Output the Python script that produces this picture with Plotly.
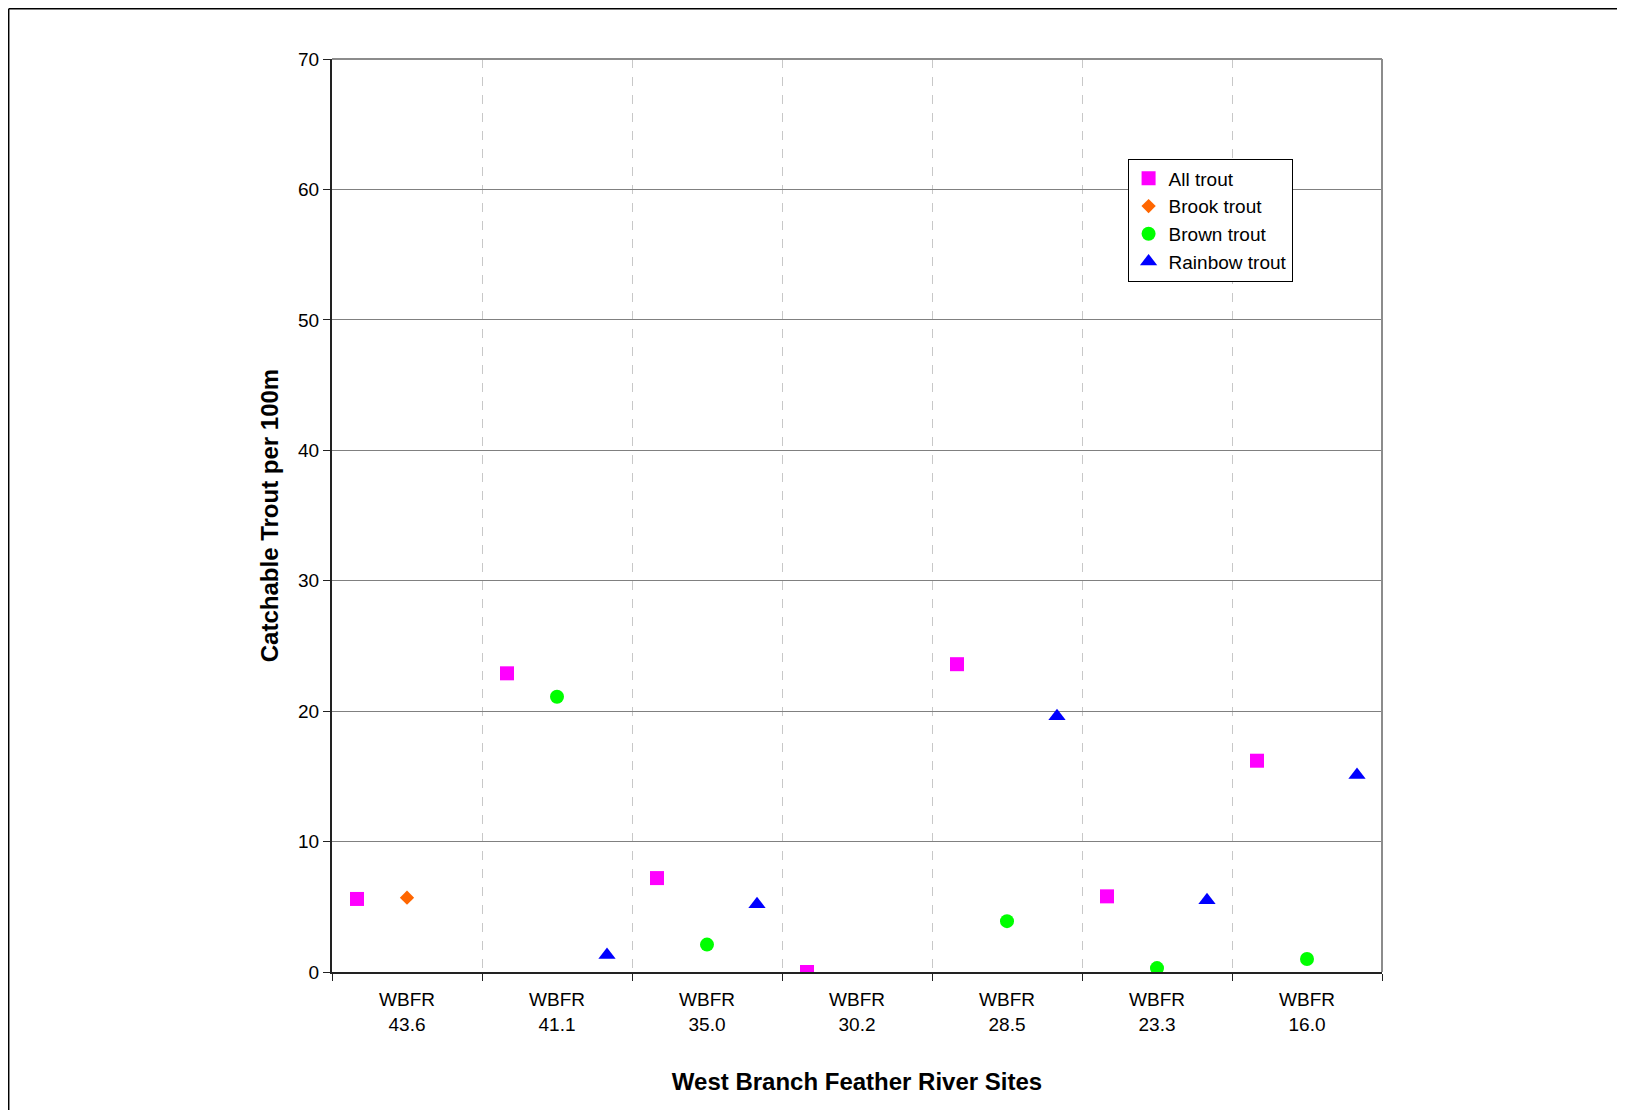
import plotly.graph_objects as go

# sites along the river (categories)
sites = ["WBFR<br>43.6", "WBFR<br>41.1", "WBFR<br>35.0", "WBFR<br>30.2",
         "WBFR<br>28.5", "WBFR<br>23.3", "WBFR<br>16.0"]

# catchable trout per 100 m, None = not caught / not plotted
all_trout = [5.6, 22.9, 7.2, 0.0, 23.6, 5.8, 16.2]
brook_trout = [5.7, None, None, None, None, None, None]
brown_trout = [None, 21.1, 2.1, None, 3.9, 0.3, 1.0]
rainbow_trout = [None, 1.3, 5.2, None, 19.6, 5.5, 15.1]

series = [
    ("All trout", all_trout, -1 / 3, "square", "#FF00FF", 14),
    ("Brook trout", brook_trout, 0.0, "diamond", "#FF6600", 11),
    ("Brown trout", brown_trout, 0.0, "circle", "#00FF00", 14),
    ("Rainbow trout", rainbow_trout, 1 / 3, "triangle-up", "#0000FF", 15),
]

font = "Liberation Sans, Arial, sans-serif"

fig = go.Figure()
for i, (name, vals, off, sym, col, sz) in enumerate(series):
    xs = [k + 0.5 + off for k, v in enumerate(vals) if v is not None]
    ys = [v for v in vals if v is not None]
    fig.add_trace(go.Scatter(
        x=xs, y=ys, name=name, mode="markers",
        marker=dict(symbol=sym, color=col, size=sz, line=dict(width=0)),
    ))

# outer chart frame (only top and left visible in the crop)
fx, fy = -0.3079, 1.0550
fig.add_shape(type="line", xref="paper", yref="paper",
              x0=fx, x1=1.5, y0=fy, y1=fy,
              line=dict(color="black", width=1.5))
fig.add_shape(type="line", xref="paper", yref="paper",
              x0=fx, x1=fx, y0=-0.5, y1=fy,
              line=dict(color="black", width=1.5))
# gray top/right plot border
fig.add_shape(type="line", xref="paper", yref="paper",
              x0=0, x1=1, y0=1, y1=1, line=dict(color="#8c8c8c", width=2))
fig.add_shape(type="line", xref="paper", yref="paper",
              x0=1, x1=1, y0=0, y1=1, line=dict(color="#8c8c8c", width=2))

fig.update_layout(
    width=1617, height=1102,
    margin=dict(l=324, r=243, t=51, b=138),
    paper_bgcolor="white", plot_bgcolor="white",
    font=dict(family=font, size=19, color="black"),
    showlegend=True,
    legend=dict(x=0.7577, y=0.891, xanchor="left", yanchor="top",
                bgcolor="white", bordercolor="black", borderwidth=1,
                font=dict(size=19), itemwidth=30),
    xaxis=dict(
        range=[0, 7], tickvals=[k + 0.5 for k in range(len(sites))],
        ticktext=sites, ticks="", showgrid=False, zeroline=False,
        showline=True, linecolor="#222", linewidth=2,
        tickfont=dict(size=19), ticklabelstandoff=9,
        minor=dict(tickvals=list(range(0, 8)), ticks="outside", ticklen=7,
                   tickcolor="#222", showgrid=True, gridcolor="#c8c8c8",
                   griddash="dash", gridwidth=1),
        title=dict(text="<b>West Branch Feather River Sites</b>",
                   font=dict(size=24), standoff=40),
    ),
    yaxis=dict(
        range=[0, 70], tickvals=list(range(0, 71, 10)),
        ticks="outside", ticklen=7, tickcolor="#222",
        showgrid=True, gridcolor="#808080", gridwidth=1, zeroline=False,
        showline=True, linecolor="#222", linewidth=2,
        tickfont=dict(size=19),
        title=dict(text="<b>Catchable Trout per 100m</b>",
                   font=dict(size=24), standoff=13),
    ),
)

fig.write_html("out.html")
